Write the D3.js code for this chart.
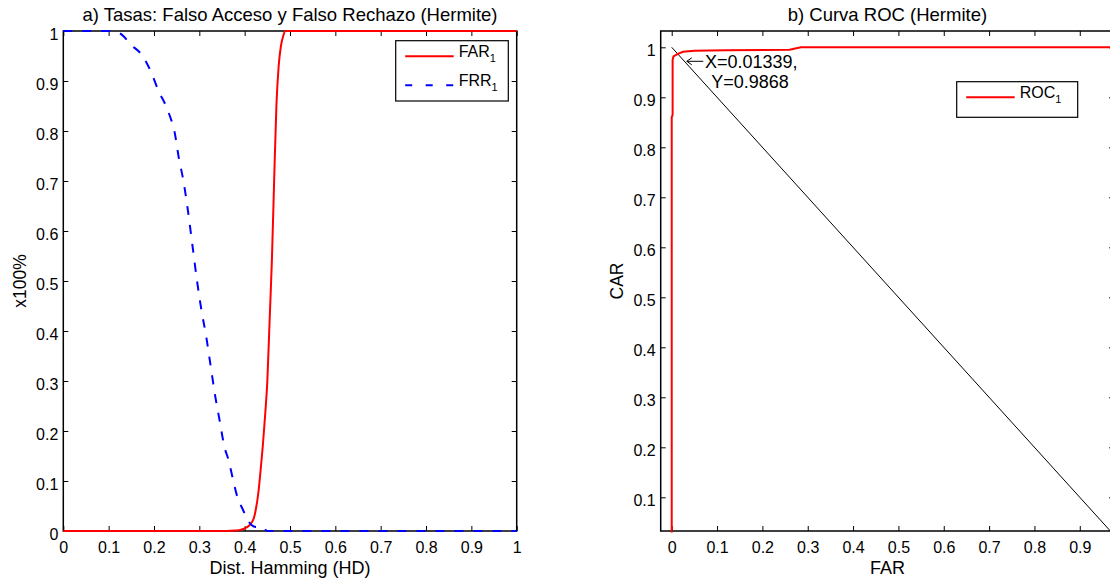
<!DOCTYPE html>
<html>
<head>
<meta charset="utf-8">
<script src="https://cdn.jsdelivr.net/npm/d3@7/dist/d3.min.js"></script>
<style>
  body { margin: 0; background: #fff; }
  svg { display: block; font-family: "Liberation Sans", Arial, Helvetica, sans-serif; }
</style>
</head>
<body>
<svg id="chart" width="1110" height="580"></svg>
<script>
// a) FAR / FRR against Hamming distance
var farHD  = [0, 0.36, 0.38, 0.39, 0.40, 0.41, 0.42, 0.425, 0.43, 0.435, 0.44, 0.445, 0.45, 0.455, 0.46, 0.465, 0.47, 0.475, 0.48, 0.485, 0.49, 1];
var farVal = [0, 0, 0.001, 0.002, 0.005, 0.011, 0.025, 0.045, 0.075, 0.12, 0.17, 0.23, 0.30, 0.42, 0.54, 0.70, 0.85, 0.93, 0.97, 0.99, 1, 1];

var frrHD  = [0, 0.10, 0.125, 0.15, 0.175, 0.195, 0.21, 0.225, 0.235, 0.245, 0.255, 0.265, 0.275, 0.285, 0.295, 0.305, 0.315, 0.325, 0.335, 0.345, 0.355, 0.365, 0.375, 0.385, 0.395, 0.405, 0.415, 0.425, 0.44, 0.445, 0.45, 1];
var frrVal = [1, 1, 0.995, 0.972, 0.95, 0.915, 0.88, 0.853, 0.83, 0.80, 0.745, 0.70, 0.64, 0.57, 0.50, 0.44, 0.39, 0.33, 0.27, 0.22, 0.17, 0.14, 0.10, 0.065, 0.045, 0.025, 0.012, 0.008, 0.008, 0.003, 0, 0];

// b) ROC curve
var rocFar = [0, 0, 0.002, 0.002, 0.004, 0.0134, 0.025, 0.05, 0.12, 0.26, 0.275, 0.285, 0.5, 1];
var rocCar = [0, 0.86, 0.865, 0.975, 0.982, 0.9868, 0.991, 0.993, 0.994, 0.995, 0.998, 1, 1, 1];
var chance = [[0, 1], [1, 0]];   // FAR + CAR = 1
var eer = {x: 0.01339, y: 0.9868};

var ticksA = [0, 0.1, 0.2, 0.3, 0.4, 0.5, 0.6, 0.7, 0.8, 0.9, 1];
var ticksBx = [0, 0.1, 0.2, 0.3, 0.4, 0.5, 0.6, 0.7, 0.8, 0.9];
var ticksBy = [0.1, 0.2, 0.3, 0.4, 0.5, 0.6, 0.7, 0.8, 0.9, 1];

var svg = d3.select('#chart');
var top0 = 31, bottom0 = 531, plotW = 453.4;
var fmt = d3.format('~g');

/**
 * Builds one MATLAB-like boxed axes with inward ticks on all sides.
 */
function makeAxes(id, left, xDomain, yDomain, xTicks, yTicks, labels) {
  var x = d3.scaleLinear().domain(xDomain).range([left, left + plotW]);
  var y = d3.scaleLinear().domain(yDomain).range([bottom0, top0]);
  var g = svg.append('g').attr('class', 'axes ' + id);

  g.append('clipPath').attr('id', 'clip-' + id)
    .append('rect')
    .attr('x', left - 1.5).attr('y', top0 - 1.5)
    .attr('width', plotW + 3).attr('height', bottom0 - top0 + 3);

  g.append('rect')
    .attr('x', left).attr('y', top0)
    .attr('width', plotW).attr('height', bottom0 - top0)
    .attr('fill', '#fff').attr('stroke', '#000').attr('stroke-width', 1.5);

  var axes = [
    {a: d3.axisBottom(x).tickValues(xTicks).tickFormat(fmt).tickSize(-5).tickPadding(11), t: [0, bottom0]},
    {a: d3.axisTop(x).tickValues(xTicks).tickFormat('').tickSize(-5), t: [0, top0]},
    {a: d3.axisLeft(y).tickValues(yTicks).tickFormat(fmt).tickSize(-5).tickPadding(5), t: [left, 0]},
    {a: d3.axisRight(y).tickValues(yTicks).tickFormat('').tickSize(-5), t: [left + plotW, 0]}
  ];
  axes.forEach(function(ax, i) {
    var sel = g.append('g')
      .attr('transform', 'translate(' + ax.t[0] + ',' + ax.t[1] + ')')
      .call(ax.a);
    sel.select('.domain').remove();
    sel.attr('font-size', 16).attr('font-family', null);
    sel.selectAll('line').attr('stroke', '#000');
    sel.selectAll('text').attr('fill', '#000');
    if (i === 2) sel.selectAll('text').attr('dy', '0.53em');
  });

  var cx = left + plotW / 2;
  g.append('text').attr('x', cx).attr('y', 20.5)
    .attr('text-anchor', 'middle').attr('font-size', 18.5).text(labels.title);
  g.append('text').attr('x', cx).attr('y', 573.5)
    .attr('text-anchor', 'middle').attr('font-size', 18).text(labels.x);
  g.append('text')
    .attr('transform', 'translate(' + (left - 37.8) + ',' + ((top0 + bottom0) / 2) + ') rotate(-90)')
    .attr('text-anchor', 'middle').attr('font-size', 17.5).text(labels.y);

  return {g: g, x: x, y: y, plot: g.append('g').attr('clip-path', 'url(#clip-' + id + ')')};
}

function legend(g, bx, by, bw, bh, items) {
  var lg = g.append('g').attr('class', 'legend');
  lg.append('rect').attr('x', bx).attr('y', by).attr('width', bw).attr('height', bh)
    .attr('fill', '#fff').attr('stroke', '#000').attr('stroke-width', 1.2);
  items.forEach(function(it, i) {
    var ly = by + 15.5 + i * 29;
    lg.append('line')
      .attr('x1', bx + 9.5).attr('x2', bx + 58).attr('y1', ly).attr('y2', ly)
      .attr('stroke', it.color).attr('stroke-width', 2)
      .attr('stroke-dasharray', it.dash || null);
    var t = lg.append('text').attr('x', bx + 63).attr('y', ly + 0.5).attr('font-size', 16);
    t.append('tspan').text(it.name);
    t.append('tspan').attr('font-size', 11).attr('dy', 5).text(it.sub);
  });
}

// ---- panel a ----
var A = makeAxes('a', 63.3, [0, 1], [0, 1], ticksA, ticksA, {
  title: 'a) Tasas: Falso Acceso y Falso Rechazo (Hermite)',
  x: 'Dist. Hamming (HD)',
  y: 'x100%'
});

var lineA = d3.line()
  .x(function(d) { return A.x(d[0]); })
  .y(function(d) { return A.y(d[1]); })
  .curve(d3.curveMonotoneX);

A.plot.append('path')
  .datum(d3.zip(farHD, farVal))
  .attr('d', lineA)
  .attr('fill', 'none').attr('stroke', '#ff0000').attr('stroke-width', 2);

A.plot.append('path')
  .datum(d3.zip(frrHD, frrVal))
  .attr('d', lineA)
  .attr('fill', 'none').attr('stroke', '#0000ff').attr('stroke-width', 2)
  .attr('stroke-dasharray', '9,10');

legend(A.g, 395.7, 40.7, 112.6, 60.3, [
  {name: 'FAR', sub: '1', color: '#ff0000'},
  {name: 'FRR', sub: '1', color: '#0000ff', dash: '7,13.5'}
]);

// ---- panel b ----
var B = makeAxes('b', 660.7, [-0.0243, 0.9757], [0.0326, 1.0326], ticksBx, ticksBy, {
  title: 'b) Curva ROC (Hermite)',
  x: 'FAR',
  y: 'CAR'
});

var lineB = d3.line()
  .x(function(d) { return B.x(d[0]); })
  .y(function(d) { return B.y(d[1]); });

B.plot.append('path')
  .datum(chance)
  .attr('d', lineB)
  .attr('fill', 'none').attr('stroke', '#000').attr('stroke-width', 1);

B.plot.append('path')
  .datum(d3.zip(rocFar, rocCar))
  .attr('d', lineB)
  .attr('fill', 'none').attr('stroke', '#ff0000').attr('stroke-width', 2);

// EER annotation: MATLAB style "\leftarrow" pointing at the crossing
var ex = B.x(eer.x), ey = B.y(eer.y);
var tipX = ex + 9, tipY = ey + 7.4;
B.g.append('path')
  .attr('d', 'M' + (tipX + 16.5) + ',' + tipY + 'H' + tipX +
             'M' + (tipX + 5) + ',' + (tipY - 3.5) + 'L' + tipX + ',' + tipY +
             'L' + (tipX + 5) + ',' + (tipY + 3.5))
  .attr('fill', 'none').attr('stroke', '#000').attr('stroke-width', 1);
B.g.append('text').attr('x', ex + 27.2).attr('y', ey + 13.8).attr('font-size', 18)
  .text('X=' + eer.x + ',');
B.g.append('text').attr('x', ex + 33.5).attr('y', ey + 34.4).attr('font-size', 18)
  .text('Y=' + eer.y);

legend(B.g, 956.7, 81.7, 121, 35.6, [
  {name: 'ROC', sub: '1', color: '#ff0000'}
]);
</script>
</body>
</html>
